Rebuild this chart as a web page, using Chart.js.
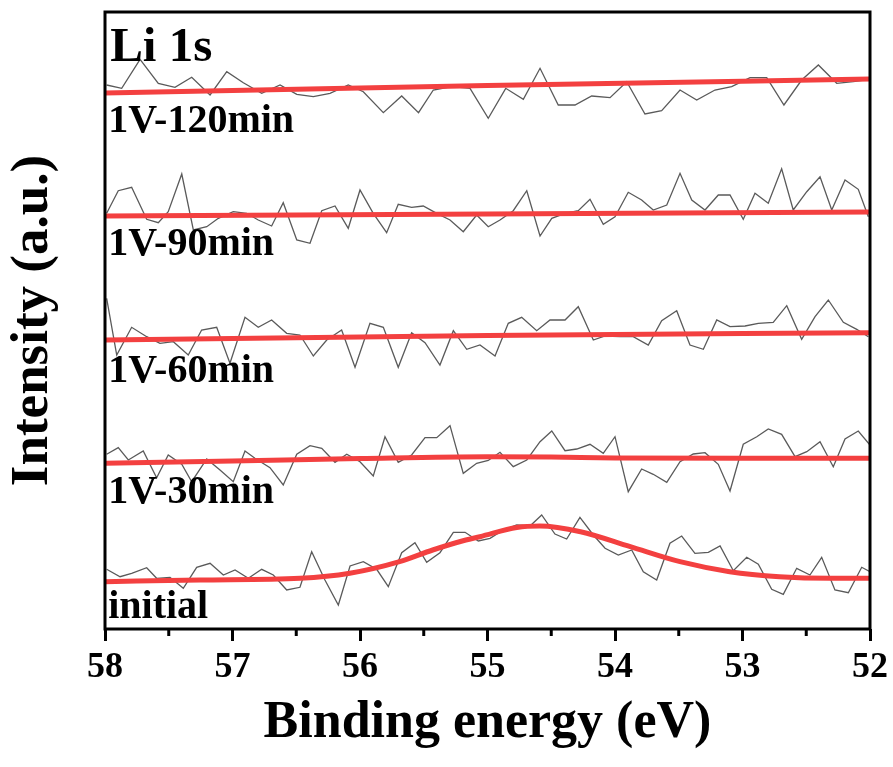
<!DOCTYPE html>
<html>
<head>
<meta charset="utf-8">
<script src="https://cdn.jsdelivr.net/npm/chart.js@4.4.1/dist/chart.umd.min.js"></script>
<style>
  html, body { margin: 0; padding: 0; background: #fff; }
  canvas { display: block; }
</style>
</head>
<body>
<canvas id="c" width="893" height="767"></canvas>
<script>
// Li 1s XPS spectra, stacked with vertical offsets (arbitrary units)
const seriesNames = ['initial', '1V-30min', '1V-60min', '1V-90min', '1V-120min'];
const panelTitle = 'Li 1s';
const xTickValues = [58, 57, 56, 55, 54, 53, 52];

// initial
const energyInit = [57.987,57.882,57.791,57.673,57.595,57.490,57.386,57.281,57.176,57.072,56.980,56.876,56.771,56.680,56.575,56.471,56.379,56.275,56.170,56.078,55.974,55.869,55.778,55.673,55.569,55.477,55.373,55.268,55.176,55.072,54.980,54.876,54.771,54.667,54.575,54.471,54.379,54.275,54.170,54.078,53.974,53.869,53.778,53.673,53.569,53.477,53.373,53.268,53.176,53.072,52.967,52.876,52.771,52.680,52.575,52.471,52.379,52.275,52.170,52.065,52.000];
const countsInit = [59.7,52.3,55.7,61.3,50.7,51.7,40.7,61.7,65.7,54,59,50.7,59.7,54,39,41.7,77.3,49,24,63,67.3,59.7,42.3,76.3,86.3,66.7,76.3,96.7,96.7,88,90.7,99,104,103,114,95,90,111.7,94,80.7,74,79,57.3,49,85.7,93,75.7,76.7,83,58.3,71.7,64.7,39.7,34.7,60.7,54,71.7,39,36.3,61.7,57.3];
const fitEnergyInit = [58.0,57.255,56.47,56.08,55.69,55.43,55.17,55.06,54.77,54.59,54.27,53.88,53.49,53.10,52.71,52.31,52.0];
const fitInit = [47.3,49,50.7,55.7,67.3,79,89,92.3,101.5,103,97.3,82.3,67.3,57.3,52.3,50.7,50.7];

// 1V-30min
const energy30 = [57.987,57.896,57.817,57.700,57.595,57.504,57.398,57.320,57.202,57.098,56.994,56.902,56.824,56.706,56.602,56.496,56.392,56.300,56.196,56.104,56.000,55.896,55.804,55.700,55.595,55.490,55.398,55.294,55.190,55.085,54.994,54.902,54.798,54.692,54.588,54.496,54.392,54.300,54.196,54.092,54.000,53.896,53.791,53.700,53.594,53.490,53.386,53.294,53.190,53.098,52.994,52.888,52.798,52.693,52.588,52.496,52.392,52.288,52.196,52.092,52.000];
const counts30 = [174.7,181.3,169,178,151.3,174,164.7,147.3,170,159,147.3,178,170.7,161.3,144,174.7,183.3,180.7,166.7,174.7,167.3,153,192.3,166.7,174,191.3,191.3,203.3,155.7,165.7,168.5,176.7,162.3,169,187.3,198,178.3,180,184.7,175.7,192.3,137.3,160,154.7,146.7,167.3,175,176.3,164.7,138,184.7,192.3,200,194.7,172.3,177.3,187.3,162.3,190,198,184];
const fitEnergy30 = [58, 57, 56, 55, 54.5, 54, 53, 52];
const fit30 = [165.7, 168, 170.5, 172.3, 172, 171, 170.7, 170.7];

// 1V-60min
const energy60 = [57.987,57.908,57.791,57.673,57.569,57.464,57.347,57.242,57.124,57.020,56.902,56.798,56.693,56.575,56.471,56.366,56.261,56.144,56.039,55.922,55.817,55.700,55.595,55.490,55.373,55.268,55.163,55.059,54.941,54.837,54.732,54.614,54.510,54.392,54.288,54.170,54.078,53.961,53.857,53.739,53.634,53.516,53.412,53.307,53.202,53.098,52.980,52.876,52.759,52.653,52.536,52.431,52.327,52.209,52.104,52.013];
const counts60 = [330.7,274,301.7,292.3,285.7,287.3,274,299,301.7,265.7,311.7,301.7,309,295.7,294,273,289,299,261.7,305.7,301.7,261.7,296.3,286.3,264,298.3,279.7,284,273,305.7,311.7,298.3,309,309,322.3,289,293,292.3,292.3,284,308.3,318.3,284,279.7,309,302.3,303,305.7,306.7,323.3,289.7,312.3,329,306.7,299.7,292.3];
const fitEnergy60 = [58, 55, 52];
const fit60 = [289, 293.5, 296.3];

// 1V-90min
const energy90 = [57.987,57.896,57.791,57.673,57.582,57.504,57.398,57.307,57.202,57.111,56.994,56.889,56.798,56.693,56.602,56.496,56.392,56.300,56.196,56.092,56.000,55.896,55.791,55.700,55.595,55.504,55.398,55.294,55.190,55.085,54.994,54.902,54.798,54.692,54.588,54.496,54.392,54.288,54.196,54.092,54.000,53.896,53.791,53.700,53.594,53.490,53.398,53.294,53.190,53.098,52.994,52.902,52.798,52.693,52.602,52.496,52.392,52.300,52.196,52.092,52.013];
const counts90 = [415.7,438.3,441.7,409.7,406.3,417.3,455,399,402.3,410.7,417.3,415.7,409,403,426.3,389,385.7,418.3,423,400.7,439,415.7,396.3,424.7,421.7,423,415.7,409,397.3,414,402.3,409,418.3,438.3,393,410.7,415.7,418.3,429.7,404.7,412.3,436.7,429,419,424,455.7,429,419,434,434,409.7,435.7,425.7,460.3,419,437.3,452.3,419,449,439.7,412.3];
const fitEnergy90 = [58, 55, 52];
const fit90 = [413, 415, 417];

// 1V-120min
const energy120 = [57.987,57.869,57.725,57.582,57.451,57.320,57.176,57.045,56.915,56.771,56.627,56.496,56.366,56.235,56.092,55.974,55.817,55.673,55.541,55.425,55.281,55.137,54.994,54.857,54.719,54.588,54.445,54.314,54.183,54.039,53.908,53.765,53.634,53.490,53.359,53.216,53.085,52.941,52.810,52.675,52.536,52.405,52.261,52.131,52.005];
const counts120 = [544,540.7,569.7,545.7,541.7,551.7,534,557.3,546.3,535.7,544,534.7,532.3,535.7,544,537.3,516.3,533,516.3,539,542.3,540.7,510.7,540.7,529.7,560.7,524,524,533,531.3,547.3,515,518.3,539,529,539,542.3,551.3,551.3,524,549,564,545.7,547.3,549.7];
const fitEnergy120 = [58, 55, 52];
const fit120 = [536, 543.5, 550];

// label anchors: energy at the left edge, intensity at the text baseline
const labelEnergy = 57.975;
const labelBaselines = [11, 126, 247, 374, 497];
const titleBaseline = 568;

const pair = (xs, ys) => xs.map((x, i) => ({ x: x, y: ys[i] }));

const RAW_COLOR = '#5a5a5a';
const FIT_COLOR = 'rgb(243,64,64)';

const rawSets = [
  [energyInit, countsInit], [energy30, counts30], [energy60, counts60],
  [energy90, counts90], [energy120, counts120]
];
const fitSets = [
  [fitEnergyInit, fitInit], [fitEnergy30, fit30], [fitEnergy60, fit60],
  [fitEnergy90, fit90], [fitEnergy120, fit120]
];

const datasets = [];
fitSets.forEach((s, i) => datasets.push({
  label: seriesNames[i] + ' fit',
  data: pair(s[0], s[1]),
  borderColor: FIT_COLOR,
  borderWidth: 5,
  pointRadius: 0,
  cubicInterpolationMode: 'monotone',
  order: 0
}));
rawSets.forEach((s, i) => datasets.push({
  label: seriesNames[i],
  data: pair(s[0], s[1]),
  borderColor: RAW_COLOR,
  borderWidth: 1.3,
  pointRadius: 0,
  tension: 0,
  order: 1
}));

const SERIF = '"Liberation Serif", "Times New Roman", serif';
Chart.defaults.font.family = SERIF;
Chart.defaults.color = '#000';

// frame, minor ticks and spectrum labels
const decorations = {
  id: 'decorations',
  afterDatasetsDraw(chart) {
    const { ctx, chartArea: a, scales: { x, y } } = chart;
    ctx.save();
    ctx.strokeStyle = '#000';
    ctx.lineWidth = 3;
    ctx.strokeRect(a.left, a.top, a.right - a.left, a.bottom - a.top);
    // minor ticks at half-eV
    for (let v = 52.5; v < 58; v += 1) {
      const px = x.getPixelForValue(v);
      ctx.beginPath();
      ctx.moveTo(px, a.bottom);
      ctx.lineTo(px, a.bottom + 7);
      ctx.stroke();
    }
    ctx.fillStyle = '#000';
    ctx.textAlign = 'left';
    ctx.textBaseline = 'alphabetic';
    const lx = x.getPixelForValue(labelEnergy);
    ctx.font = 'bold 40px ' + SERIF;
    seriesNames.forEach((name, i) => {
      ctx.fillText(name, lx, y.getPixelForValue(labelBaselines[i]));
    });
    ctx.font = 'bold 49px ' + SERIF;
    ctx.fillText(panelTitle, lx + 2, y.getPixelForValue(titleBaseline));
    ctx.restore();
  }
};

new Chart(document.getElementById('c'), {
  type: 'line',
  data: { datasets },
  options: {
    responsive: false,
    animation: false,
    devicePixelRatio: 1,
    layout: { padding: { left: 0, right: 23, top: 12, bottom: 0 } },
    plugins: { legend: { display: false }, tooltip: { enabled: false } },
    scales: {
      x: {
        type: 'linear',
        reverse: true,
        min: 52,
        max: 58,
        afterFit(scale) { scale.height = 138; },
        border: { display: false },
        grid: {
          drawOnChartArea: false,
          drawTicks: true,
          tickLength: 12,
          tickWidth: 3,
          tickColor: ctx => (xTickValues.includes(ctx.tick && ctx.tick.value) ? '#000' : 'rgba(0,0,0,0)')
        },
        ticks: {
          stepSize: 0.5,
          autoSkip: false,
          maxRotation: 0,
          padding: 5,
          color: '#000',
          font: { size: 36, weight: 'bold' },
          callback: v => (xTickValues.includes(v) ? String(v) : '')
        },
        title: {
          display: true,
          text: 'Binding energy (eV)',
          color: '#000',
          font: { size: 52, weight: 'bold' },
          padding: { top: 0, bottom: 12 }
        }
      },
      y: {
        type: 'linear',
        min: 0,
        max: 617,
        afterFit(scale) { scale.width = 105; },
        border: { display: false },
        grid: { display: false },
        ticks: { display: false },
        title: {
          display: true,
          text: 'Intensity (a.u.)',
          color: '#000',
          font: { size: 53, weight: 'bold' },
          padding: { top: 2, bottom: 0 }
        }
      }
    }
  },
  plugins: [decorations]
});
</script>
</body>
</html>
